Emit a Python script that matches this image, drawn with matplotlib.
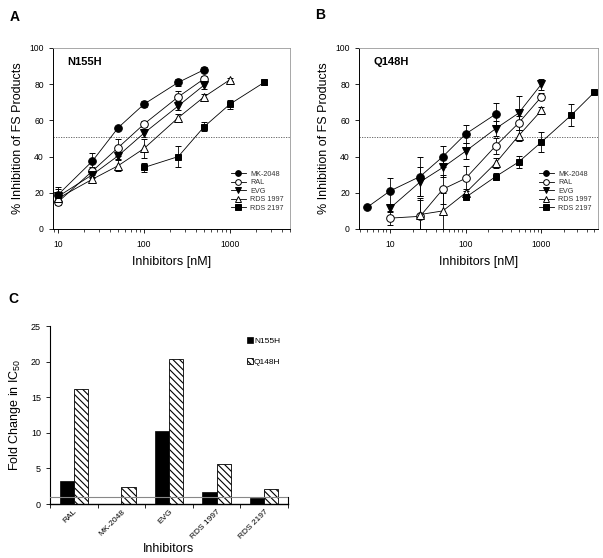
import numpy as np
import matplotlib
matplotlib.use("Agg")
import matplotlib.pyplot as plt
from matplotlib.ticker import LogLocator, NullFormatter, FixedLocator

plt.rcParams['font.family'] = ['Liberation Sans', 'DejaVu Sans']
plt.rcParams['hatch.linewidth'] = 0.8
plt.rcParams['mathtext.default'] = 'regular'

nan = np.nan
series = ["MK-2048", "RAL", "EVG", "RDS 1997", "RDS 2197"]

# Panel A: N155H
conc_a = [10, 25, 50, 100, 250, 500, 1000, 2500]
a_mk = [19, 37.5, 56, 69, 81, 88, nan, nan]
a_mk_err = [3, 4.5, 1, 1.5, 2, 1.5, nan, nan]
a_ral = [15, 32, 45, 58, 73, 83, nan, nan]
a_ral_err = [1.5, 2, 4.5, 1.5, 3, 1.5, nan, nan]
a_evg = [18, 30, 40.5, 53, 68, 79.5, nan, nan]
a_evg_err = [2, 2, 2, 2, 2.5, 2, nan, nan]
a_r1997 = [17, 27.5, 35, 44.5, 61.5, 73, 82.5, nan]
a_r1997_err = [2, 1.5, 3, 5, 2, 1.5, 1, nan]
a_r2197 = [19, nan, nan, 34, 40, 56.5, 69, 81]
a_r2197_err = [4, nan, nan, 2.5, 6, 2.5, 2.5, 1.5]

# Panel B: Q148H
conc_b = [5, 10, 25, 50, 100, 250, 500, 1000, 2500, 5000]
b_mk = [12, 21, 29, 40, 52.5, 63.5, nan, nan, nan, nan]
b_mk_err = [0.5, 7, 11, 6, 5, 6, nan, nan, nan, nan]
b_ral = [nan, 6, 7, 22, 28, 46, 58.5, 73, nan, nan]
b_ral_err = [nan, 4, 10, 8, 7, 4.5, 4, 2, nan, nan]
b_evg = [nan, 11.5, 26, 34, 43, 55.5, 64, 80, nan, nan]
b_evg_err = [nan, 2, 8, 5, 4.5, 4, 9.5, 3, nan, nan]
b_r1997 = [nan, nan, 8, 10, 20, 36.5, 51.5, 65.5, nan, nan]
b_r1997_err = [nan, nan, 8, 10, 2, 3, 3, 2, nan, nan]
b_r2197 = [nan, nan, nan, nan, 17.5, 29, 37, 48, 63, 75.5]
b_r2197_err = [nan, nan, nan, nan, 1.5, 2, 3.5, 5.5, 6, 1]

# Panel C: fold change in IC50
inhibitors = ["RAL", "MK-2048", "EVG", "RDS 1997", "RDS 2197"]
fc_n155h = [3.2, 0, 10.2, 1.7, 0.9]
fc_q148h = [16.2, 2.4, 20.3, 5.6, 2.1]

W, H = 603, 558
fig = plt.figure(figsize=(W / 100, H / 100), dpi=100)

def ax_px(l, t, r, b):
    return fig.add_axes([l / W, 1 - b / H, (r - l) / W, (b - t) / H])

styles = {
    "MK-2048": dict(marker='o', mfc='black', mec='black', ms=5.5),
    "RAL": dict(marker='o', mfc='white', mec='black', ms=5.5),
    "EVG": dict(marker='v', mfc='black', mec='black', ms=5.5),
    "RDS 1997": dict(marker='^', mfc='white', mec='black', ms=5.5),
    "RDS 2197": dict(marker='s', mfc='black', mec='black', ms=5),
}

def dose_panel(ax, conc, data, title, xlim):
    handles = []
    for name, (y, e) in zip(series, data):
        c = ax.errorbar(conc, y, yerr=e, color='black', lw=0.6, elinewidth=0.6,
                        capsize=2, capthick=0.6, label=name, mew=0.7,
                        **styles[name])
        handles.append(c[0])
    ax.axhline(51, color='#555555', lw=0.6, ls=(0, (1.5, 1.5)))
    ax.set_xscale('log')
    ax.set_xlim(*xlim)
    ax.set_ylim(0, 100)
    ax.set_yticks([0, 20, 40, 60, 80, 100])
    ax.xaxis.set_major_locator(FixedLocator([10, 100, 1000]))
    ax.xaxis.set_minor_locator(LogLocator(base=10, subs=np.arange(2, 10)))
    ax.xaxis.set_minor_formatter(NullFormatter())
    ax.set_xticklabels(["10", "100", "1000"])
    ax.tick_params(axis='both', which='major', labelsize=6.2, length=3, width=0.6, direction='out')
    ax.tick_params(axis='x', which='minor', length=2, width=0.5, direction='out')
    ax.tick_params(axis='x', pad=5)
    for s in ['top', 'right']:
        ax.spines[s].set_color('#999999')
        ax.spines[s].set_linewidth(0.6)
    for s in ['left', 'bottom']:
        ax.spines[s].set_linewidth(0.7)
    ax.set_xlabel("Inhibitors [nM]", fontsize=9, labelpad=5)
    ax.set_ylabel("% Inhibition of FS Products", fontsize=9, labelpad=4)
    ax.text(0.06, 0.92, title, transform=ax.transAxes, fontsize=8,
            fontweight='bold', va='center', ha='left')
    leg = ax.legend(handles=handles, labels=series, loc='lower right', fontsize=5.2,
                    frameon=False, handlelength=2.0, handletextpad=0.6,
                    labelspacing=0.2, markerscale=0.75,
                    bbox_to_anchor=(1.0, 0.06))
    for t in leg.get_texts():
        t.set_color('#333333')

axA = ax_px(53, 48, 290, 229)
dose_panel(axA, conc_a, [(a_mk, a_mk_err), (a_ral, a_ral_err), (a_evg, a_evg_err),
                         (a_r1997, a_r1997_err), (a_r2197, a_r2197_err)],
           "N155H", (8.7, 5000))

axB = ax_px(359, 48, 598, 229)
dose_panel(axB, conc_b, [(b_mk, b_mk_err), (b_ral, b_ral_err), (b_evg, b_evg_err),
                         (b_r1997, b_r1997_err), (b_r2197, b_r2197_err)],
           "Q148H", (3.9, 5600))

# Panel C
axC = ax_px(50, 326, 288, 504)
x = np.arange(len(inhibitors))
bw = 0.3
axC.bar(x - bw / 2, fc_n155h, bw, color='black', edgecolor='black', lw=0.5, label='N155H', zorder=2)
axC.bar(x + bw / 2, fc_q148h, bw, color='white', edgecolor='black', lw=0.6,
        hatch='\\\\\\\\\\', label='Q148H', zorder=2)
axC.axhline(1, color='#888888', lw=0.8, zorder=3)
axC.set_xlim(-0.5, len(inhibitors) - 0.5)
axC.set_ylim(0, 25)
axC.set_yticks([0, 5, 10, 15, 20, 25])
axC.set_xticks(x)
axC.set_xticklabels(inhibitors, rotation=45, ha='right', rotation_mode='anchor', fontsize=6)
axC.tick_params(axis='x', which='major', length=0, pad=3)
axC.set_xticks(np.arange(-0.5, len(inhibitors)), minor=True)
axC.tick_params(axis='x', which='minor', length=3, width=0.6, direction='out')
axC.tick_params(axis='y', labelsize=6.5, length=3, width=0.6)
axC.spines['top'].set_visible(False)
axC.spines['right'].set_visible(False)
axC.spines['bottom'].set_linewidth(1.0)
axC.spines['left'].set_linewidth(0.8)
axC.plot([len(inhibitors) - 0.5] * 2, [0, 1], color='black', lw=0.8, clip_on=False)
axC.set_ylabel("Fold Change in IC$_{50}$", fontsize=9, labelpad=6)
fig.text(169 / W, 1 - 549 / H, "Inhibitors", fontsize=9, ha='center', va='center')
axC.legend(loc='upper right', fontsize=6, frameon=False, handlelength=0.7,
           handleheight=0.7, handletextpad=0.1, labelspacing=1.6,
           bbox_to_anchor=(1.0, 0.98))

fig.text(10 / W, 1 - 17 / H, "A", fontsize=10, fontweight='bold', va='center')
fig.text(315 / W, 1 - 15 / H, "B", fontsize=10, fontweight='bold', va='center')
fig.text(8 / W, 1 - 299 / H, "C", fontsize=10, fontweight='bold', va='center')

fig.savefig("out.png", dpi=100)
